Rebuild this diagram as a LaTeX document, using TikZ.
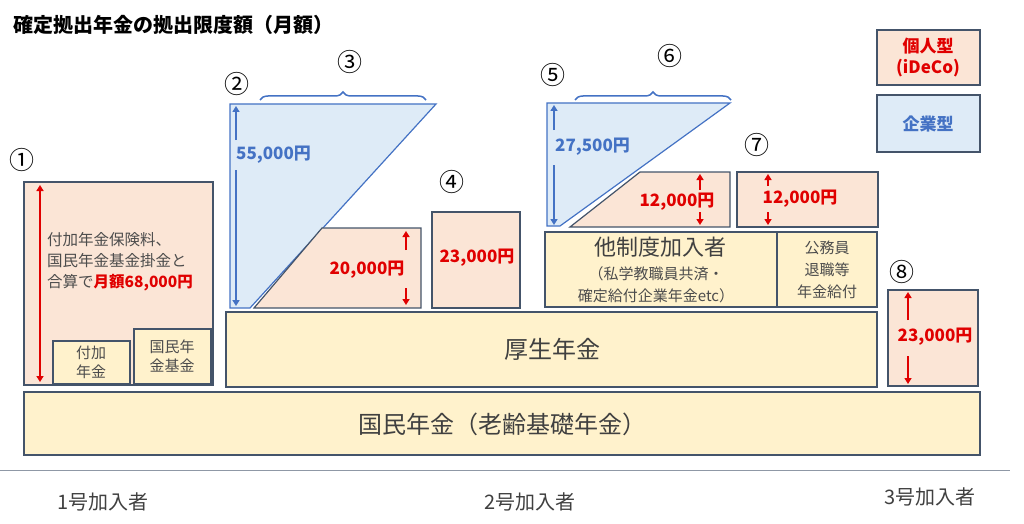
\documentclass[tikz,border=0pt]{standalone}
\usepackage{fontspec}
\setmainfont{Noto Sans CJK JP}
\usetikzlibrary{arrows.meta,decorations.pathreplacing}
\definecolor{pinkfill}{HTML}{FBE5D6}
\definecolor{creamfill}{HTML}{FFF2CC}
\definecolor{bluefill}{HTML}{DEEBF7}
\definecolor{edge}{HTML}{44546A}
\definecolor{blueline}{HTML}{4472C4}
\definecolor{redtext}{HTML}{E00000}
\tikzset{
  box/.style={draw=edge, line width=1.2pt},
  pinkbox/.style={box, fill=pinkfill},
  creambox/.style={box, fill=creamfill},
  bluebox/.style={draw=blueline, line width=1.2pt, fill=bluefill},
  amount/.style={font=\bfseries\fontsize{17}{17}\selectfont, text=redtext, inner sep=0pt},
  bamount/.style={font=\bfseries\fontsize{17}{17}\selectfont, text=blueline, inner sep=0pt},
  redarrow/.style={draw=redtext, line width=2pt, -{Triangle[length=6pt,width=7pt]}},
  bluearrow/.style={draw=blueline, line width=2pt, -{Triangle[length=6pt,width=7pt]}},
  num/.style={font=\fontsize{25}{25}\selectfont, inner sep=0pt},
  small/.style={font=\fontsize{15}{19}\selectfont, text=black!70, align=center, inner sep=0pt},
  bracket/.style={draw=blueline, line width=1.5pt, decorate, decoration={brace, amplitude=8pt}},
}
\begin{document}
\begin{tikzpicture}[x=1pt,y=-1pt]
  \useasboundingbox (0,0) rectangle (1024,524);
  % title
  \node[anchor=west, font=\bfseries\fontsize{20}{20}\selectfont] (title) at (10,25) {確定拠出年金の拠出限度額（月額）};

  % base boxes
  \draw[creambox] (24,392) rectangle (980,455);
  \node[font=\fontsize{24}{24}\selectfont, text=black!75] (kokumin) at (502,424) {国民年金（老齢基礎年金）};
  \draw[creambox] (226,312) rectangle (877,387);
  \node[font=\fontsize{24}{24}\selectfont, text=black!75] (kosei) at (552,349) {厚生年金};

  % 1
  \node[num] (n1) at (22,160) {①};
  \draw[pinkbox] (24,182) rectangle (213,385);
  \coordinate (a1top) at (40,185);
  \coordinate (a1bot) at (40,382);
  \draw[draw=redtext, line width=2pt, {Triangle[length=6pt,width=7pt]}-{Triangle[length=6pt,width=7pt]}] (a1top) -- (a1bot);
  \node[anchor=west, small, align=left, font=\fontsize{15.5}{21}\selectfont] (t1) at (47,262)
    {付加年金保険料、\\国民年金基金掛金と\\合算で\textcolor{redtext}{\bfseries 月額68,000円}};
  \draw[creambox] (53,341) rectangle (130,384);
  \node[small] (fuka) at (91,362) {付加\\年金};
  \draw[creambox] (134,329) rectangle (211,384);
  \node[small] (kikin) at (172,356) {国民年\\金基金};

  % 2 and 3
  \node[num] (n2) at (237,84) {②};
  \draw[bluebox] (230,104) -- (436,104) -- (250,308) -- (230,308) -- cycle;
  \node[bamount, anchor=west] (v55) at (236,155) {55,000円};
  \coordinate (a2top) at (236,106);
  \coordinate (a2bot) at (236,306);
  \draw[bluearrow] (236,140) -- (a2top);
  \draw[bluearrow] (236,170) -- (a2bot);
  \draw[pinkbox] (254,308) -- (322,228) -- (421,228) -- (421,308) -- cycle;
  \node[amount] (v20) at (367,270) {20,000円};
  \coordinate (a3top) at (406,231);
  \coordinate (a3bot) at (406,305);
  \draw[redarrow] (406,250) -- (a3top);
  \draw[redarrow] (406,288) -- (a3bot);
  \draw[bracket] (260,100) -- (426,100);
  \node[num] (n3) at (350,62) {③};

  % 4
  \node[num] (n4) at (452,182) {④};
  \draw[pinkbox] (432,212) rectangle (520,308);
  \node[amount] (v23a) at (477,258) {23,000円};

  % 5 and 6
  \node[num] (n5) at (553,75) {⑤};
  \draw[bluebox] (547,103) -- (730,103) -- (560,226) -- (547,226) -- cycle;
  \node[bamount, anchor=west] (v275) at (555,147) {27,500円};
  \coordinate (a5top) at (554,105);
  \coordinate (a5bot) at (554,225);
  \draw[bluearrow] (554,130) -- (a5top);
  \draw[bluearrow] (554,165) -- (a5bot);
  \draw[pinkbox] (570,227) -- (640,172) -- (730,172) -- (730,227) -- cycle;
  \node[amount] (v12a) at (677,202) {12,000円};
  \coordinate (a6top) at (700,174);
  \coordinate (a6bot) at (700,225);
  \draw[redarrow] (700,190) -- (a6top);
  \draw[redarrow] (700,212) -- (a6bot);
  \draw[bracket] (575,100) -- (731,100);
  \node[num] (n6) at (670,56) {⑥};

  % 7
  \node[num] (n7) at (757,145) {⑦};
  \draw[pinkbox] (737,172) rectangle (878,227);
  \node[amount] (v12b) at (800,199) {12,000円};
  \coordinate (a7top) at (768,174);
  \coordinate (a7bot) at (768,225);
  \draw[redarrow] (768,186) -- (a7top);
  \draw[redarrow] (768,212) -- (a7bot);

  % other systems
  \draw[creambox] (545,232) rectangle (777,307);
  \node[font=\fontsize{22}{22}\selectfont, text=black!75] (tasei) at (660,247) {他制度加入者};
  \node[small, font=\fontsize{15}{22}\selectfont] (tasei2) at (656,285) {（私学教職員共済・\\確定給付企業年金etc）};
  \draw[creambox] (777,232) rectangle (877,307);
  \node[small, font=\fontsize{15}{22}\selectfont] (komu) at (827,270) {公務員\\退職等\\年金給付};

  % 8
  \node[num] (n8) at (902,272) {⑧};
  \draw[pinkbox] (888,290) rectangle (978,386);
  \node[amount] (v23b) at (935,337) {23,000円};
  \coordinate (a8top) at (908,292);
  \coordinate (a8bot) at (908,384);
  \draw[redarrow] (908,320) -- (a8top);
  \draw[redarrow] (908,356) -- (a8bot);

  % legend
  \draw[pinkbox] (877,30) rectangle (980,85);
  \node[amount, align=center, font=\bfseries\fontsize{17}{21}\selectfont] (kojin) at (928,57) {個人型\\(iDeCo)};
  \draw[bluebox, draw=edge] (877,95) rectangle (980,152);
  \node[bamount] (kigyo) at (928,124) {企業型};

  % bottom
  \draw[draw=edge!60, line width=0.8pt] (0,470) -- (1010,470);
  \node[font=\fontsize{20}{20}\selectfont, text=black!75] (g1) at (103,502) {1号加入者};
  \node[font=\fontsize{20}{20}\selectfont, text=black!75] (g2) at (530,502) {2号加入者};
  \node[font=\fontsize{20}{20}\selectfont, text=black!75] (g3) at (930,497) {3号加入者};
\end{tikzpicture}
\end{document}
